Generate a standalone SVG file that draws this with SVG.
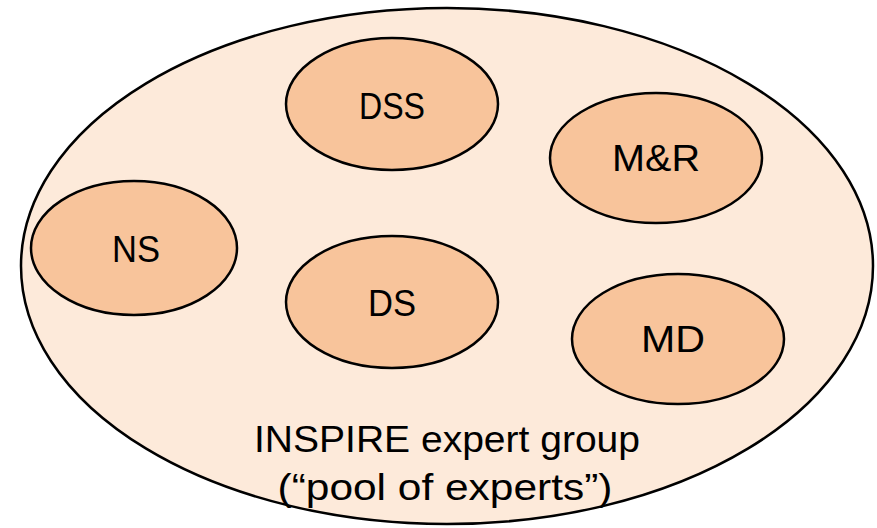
<svg xmlns="http://www.w3.org/2000/svg" width="877" height="528" viewBox="0 0 877 528">
<style>
.outer{fill:#FDEADA;stroke:#000;stroke-width:2.5}
.node{fill:#F8C49B;stroke:#000;stroke-width:2.5}
.lbl{font-family:"Liberation Sans",Arial,sans-serif;font-size:37px;fill:#000;text-anchor:middle}
</style>
<rect width="877" height="528" fill="#fff"/>
<g id="group">
<ellipse class="outer" cx="447" cy="266" rx="426" ry="258"/>
<text class="lbl" x="447" y="452" textLength="386" lengthAdjust="spacingAndGlyphs">INSPIRE expert group</text>
<text class="lbl" x="445" y="500" textLength="335" lengthAdjust="spacingAndGlyphs">(“pool of experts”)</text>
</g>
<g id="connectors"></g>
<g id="DSS"><ellipse class="node" cx="392" cy="104" rx="106" ry="66"/><text class="lbl" x="392" y="119" textLength="66" lengthAdjust="spacingAndGlyphs">DSS</text></g>
<g id="MR"><ellipse class="node" cx="656" cy="158" rx="106" ry="65"/><text class="lbl" x="656" y="171" textLength="88" lengthAdjust="spacingAndGlyphs">M&amp;R</text></g>
<g id="NS"><ellipse class="node" cx="134" cy="248" rx="103" ry="67"/><text class="lbl" x="136" y="262" textLength="48" lengthAdjust="spacingAndGlyphs">NS</text></g>
<g id="DS"><ellipse class="node" cx="392" cy="302" rx="106" ry="66"/><text class="lbl" x="392" y="316" textLength="48" lengthAdjust="spacingAndGlyphs">DS</text></g>
<g id="MD"><ellipse class="node" cx="678" cy="339" rx="106" ry="65"/><text class="lbl" x="673" y="352" textLength="64" lengthAdjust="spacingAndGlyphs">MD</text></g>
</svg>
